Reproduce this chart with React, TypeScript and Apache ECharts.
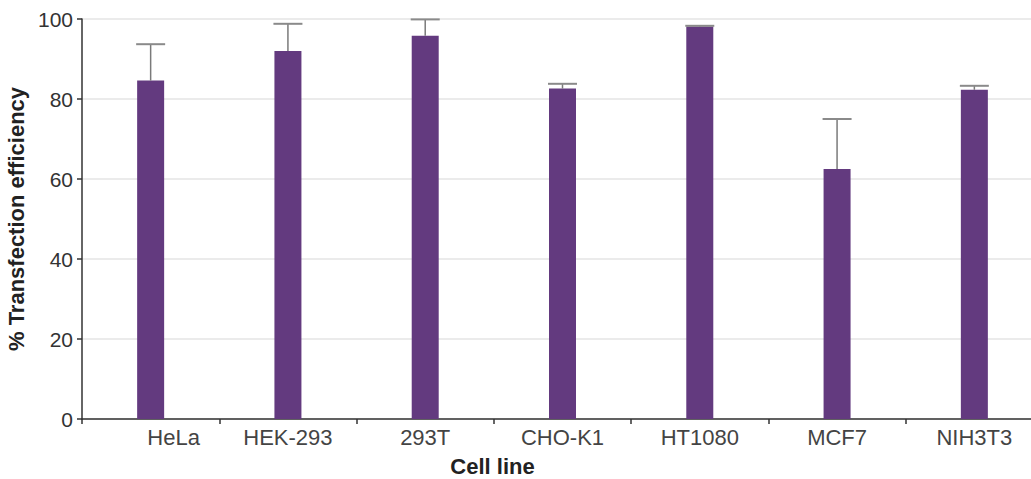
import React, { useEffect, useRef } from "react";
import * as echarts from "echarts";

const categories = ["HeLa", "HEK-293", "293T", "CHO-K1", "HT1080", "MCF7", "NIH3T3"];
const efficiency = [84.6, 92, 95.8, 82.6, 98.1, 62.5, 82.3];
const errorTop = [93.7, 98.8, 99.9, 83.8, 98.3, 75, 83.3];
const yTicks = [0, 20, 40, 60, 80, 100];

const FONT = "'Liberation Sans', Arial, Helvetica, sans-serif";
const BAR_W = 27;

export default function App() {
  const ref = useRef<HTMLDivElement>(null);
  useEffect(() => {
    if (!ref.current) return;
    const chart = echarts.init(ref.current, undefined, { renderer: "svg" });
    const errData = categories.map((_, i) => [i, efficiency[i], errorTop[i]]);
    chart.setOption({
      animation: false,
      backgroundColor: "#ffffff",
      grid: { left: 82, right: -12, top: 19, bottom: 60, outerBoundsMode: "none", containLabel: false },
      xAxis: {
        type: "category",
        data: categories.map((c, i) =>
          i === 0 ? { value: c, textStyle: { padding: [0, 0, 0, 46] } } : c
        ),
        boundaryGap: true,
        axisLine: { show: true, lineStyle: { color: "#333333", width: 1.5 } },
        axisTick: { show: true, length: 5, lineStyle: { color: "#333333", width: 1.5 } },
        axisLabel: { color: "#444444", fontSize: 22, fontFamily: FONT, margin: 7 },
        name: "Cell line",
        nameLocation: "middle",
        nameGap: 36,
        nameTextStyle: {
          color: "#222222",
          fontSize: 22,
          fontWeight: "bold",
          fontFamily: FONT,
          padding: [0, 140, 0, 0],
        },
        splitLine: { show: false },
      },
      yAxis: {
        type: "value",
        min: yTicks[0],
        max: yTicks[yTicks.length - 1],
        interval: 20,
        axisLine: { show: true, lineStyle: { color: "#333333", width: 1.5 } },
        axisTick: { show: true, length: 5, lineStyle: { color: "#333333", width: 1.5 } },
        axisLabel: { color: "#333333", fontSize: 21, fontFamily: FONT, margin: 9 },
        splitLine: { show: true, lineStyle: { color: "#e4e4e4", width: 1.5 } },
        name: "% Transfection efficiency",
        nameLocation: "middle",
        nameGap: 51,
        nameTextStyle: { color: "#222222", fontSize: 22, fontWeight: "bold", fontFamily: FONT },
      },
      series: [
        {
          type: "bar",
          data: efficiency,
          barWidth: BAR_W,
          itemStyle: { color: "#633a7f" },
          z: 2,
        },
        {
          type: "custom",
          data: errData,
          z: 3,
          renderItem: (params: any, api: any) => {
            const x = api.value(0);
            const base = api.coord([x, api.value(1)]);
            const top = api.coord([x, api.value(2)]);
            const half = BAR_W / 2 + 1;
            return {
              type: "group",
              children: [
                {
                  type: "line",
                  shape: { x1: base[0], y1: base[1], x2: top[0], y2: top[1] },
                  style: { stroke: "#7a7a7a", lineWidth: 1.5 },
                },
                {
                  type: "line",
                  shape: { x1: top[0] - half, y1: top[1], x2: top[0] + half, y2: top[1] },
                  style: { stroke: "#8a8a8a", lineWidth: 2 },
                },
              ],
            };
          },
        },
      ],
    });
    return () => chart.dispose();
  }, []);
  return (
    <div
      ref={ref}
      style={{ position: "absolute", left: 0, top: 0, width: 1031, height: 479 }}
    />
  );
}
